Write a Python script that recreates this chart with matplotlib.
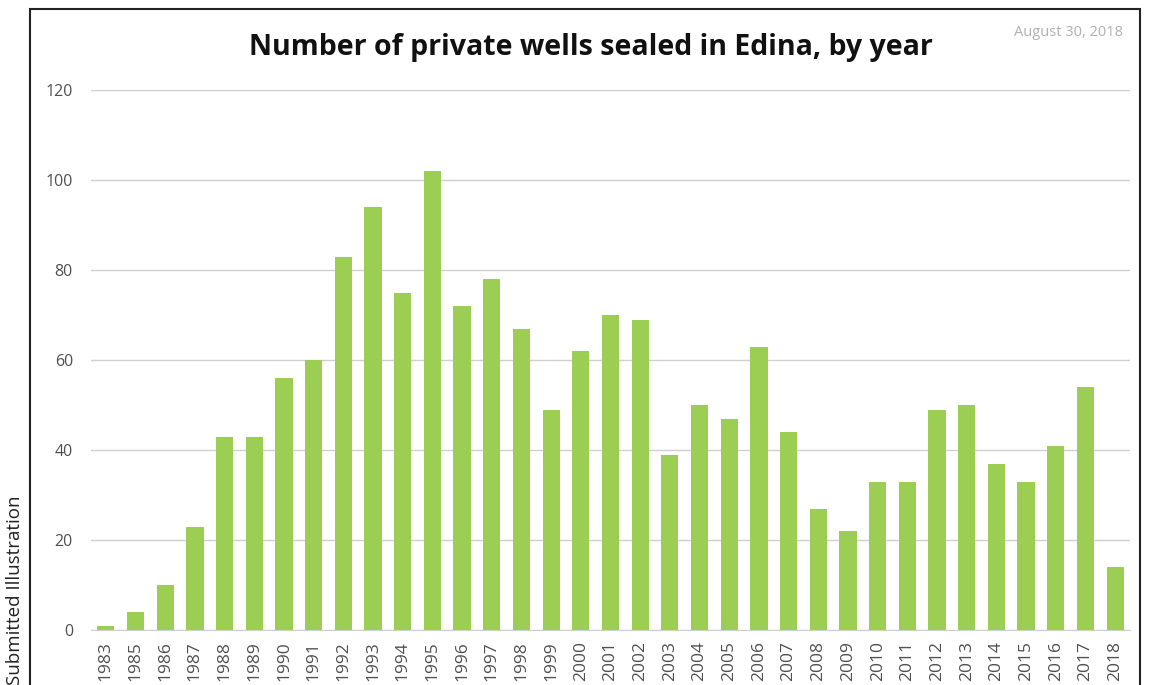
import matplotlib.pyplot as plt
from matplotlib.patches import Rectangle

# wells sealed per year (1984 missing in the source chart)
years = ["1983", "1985", "1986", "1987", "1988", "1989", "1990", "1991", "1992",
         "1993", "1994", "1995", "1996", "1997", "1998", "1999", "2000", "2001",
         "2002", "2003", "2004", "2005", "2006", "2007", "2008", "2009", "2010",
         "2011", "2012", "2013", "2014", "2015", "2016", "2017", "2018"]
wells = [1, 4, 10, 23, 43, 43, 56, 60, 83,
         94, 75, 102, 72, 78, 67, 49, 62, 70,
         69, 39, 50, 47, 63, 44, 27, 22, 33,
         33, 49, 50, 37, 33, 41, 54, 14]
y_ticks = [0, 20, 40, 60, 80, 100, 120]

plt.rcParams['font.family'] = ['Open Sans', 'DejaVu Sans']

W, H = 1153, 685
fig = plt.figure(figsize=(W / 100, H / 100), dpi=100)
ax = fig.add_axes([91 / W, 55 / H, (1130 - 91) / W, (630 - 90) / H])

x = list(range(len(years)))
ax.bar(x, wells, width=0.58, color="#9BCE52", zorder=3)

ax.set_xlim(-0.5, len(years) - 0.5)
ax.set_ylim(0, 120)
ax.set_yticks(y_ticks)
ax.set_xticks(x)
ax.set_xticklabels(years, rotation=90)
ax.tick_params(axis="both", length=0, colors="#505050")
ax.tick_params(axis="y", pad=13, labelsize=11.5)
ax.tick_params(axis="x", pad=8, labelsize=12.5)
ax.grid(axis="y", color="#d0d0d0", linewidth=1, zorder=0)
for s in ["top", "right", "left"]:
    ax.spines[s].set_visible(False)
ax.spines["bottom"].set_color("#d0d0d0")

fig.text(591 / W, 1 - 47 / H, "Number of private wells sealed in Edina, by year",
         ha="center", va="center", fontsize=20.5, fontweight="bold", color="#111111")
fig.text(1123 / W, 1 - 33 / H, "August 30, 2018", ha="right", va="center",
         fontsize=10.5, color="#b0b0b0")
fig.text(15 / W, 0, "Submitted Illustration", rotation=90, ha="center", va="bottom",
         fontsize=13.5, color="#222222")

# outer frame of the pasted chart
fig.patches.append(Rectangle((30 / W, -0.05), (1140 - 30) / W, 1.05 - 9 / H,
                             transform=fig.transFigure, fill=False,
                             edgecolor="#222222", linewidth=1.5))

fig.savefig("out.png", dpi=100, facecolor="white")
